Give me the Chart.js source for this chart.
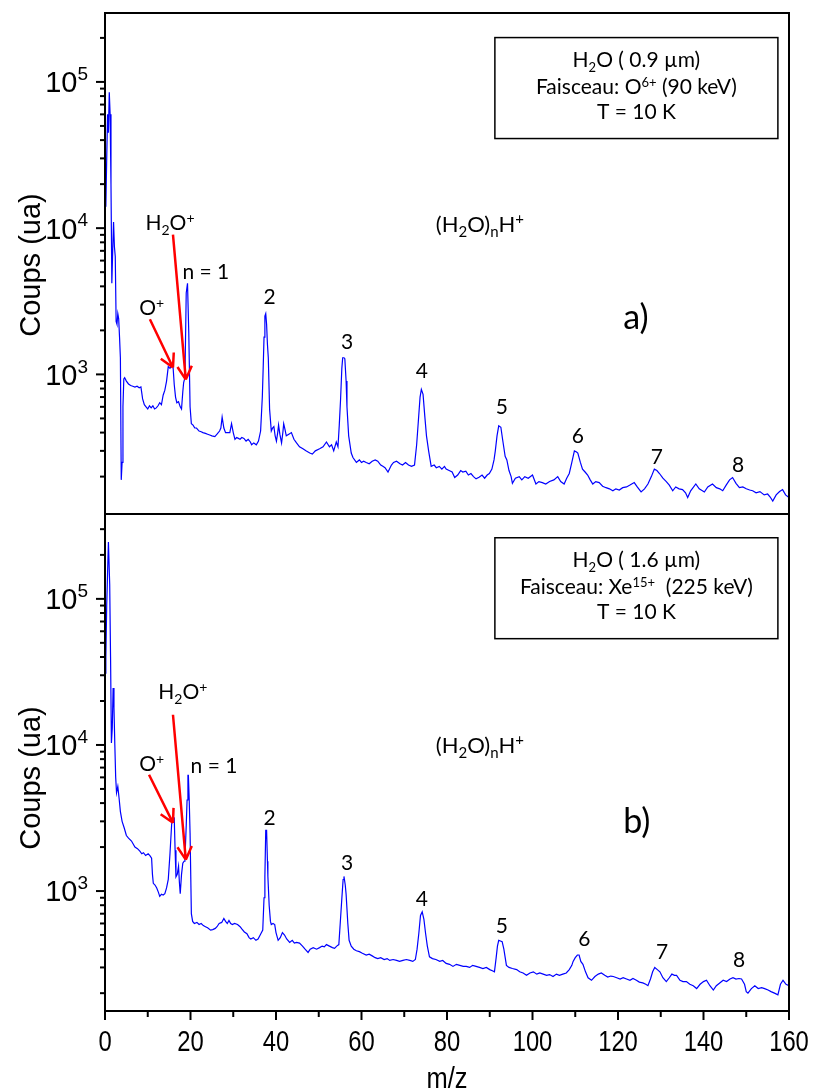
<!DOCTYPE html>
<html lang="fr">
<head>
<meta charset="UTF-8">
<title>Spectres de masse - glace H2O</title>
<script src="https://cdn.jsdelivr.net/npm/chart.js"></script>
<style>
  body { margin:0; background:#fff; }
  .wrap { position:relative; width:817px; height:1091px; overflow:hidden }
  canvas { position:absolute; left:0 }
  #chartA { top:0 }
  #chartB { top:505px }
</style>
</head>
<body>
<div class="wrap">
  <canvas id="chartA" width="817" height="520"></canvas>
  <canvas id="chartB" width="817" height="586"></canvas>
</div>
<script>
// --- panel a) : O6+ 90 keV, 0.9 um ---
const mzA = [0.0,0.2,0.4,0.6,0.8,1.0,1.2,1.4,1.6,1.8,2.0,2.2,2.4,2.6,2.8,3.0,3.2,3.4,3.6,3.8,4.0,4.2,4.4,4.6,5.0,5.5,6.0,6.5,7.0,7.5,8.0,8.4,8.8,9.2,9.6,10.0,10.4,10.8,11.2,11.6,12.0,12.4,12.8,13.2,13.6,14.0,14.4,14.8,15.2,15.6,15.9,16.2,16.5,16.8,17.2,17.6,17.9,18.2,18.4,18.7,19.0,19.3,19.6,19.9,20.2,20.6,21.0,21.4,22.0,22.5,22.9,23.5,24.0,24.5,25.0,25.7,26.2,26.8,27.1,27.4,27.8,28.2,28.6,29.2,29.6,30.0,30.4,30.8,31.2,31.6,32.0,32.5,33.0,33.5,34.0,34.3,34.8,35.4,35.9,36.4,36.8,37.0,37.2,37.4,37.6,37.8,38.0,38.2,38.5,38.9,39.2,39.5,39.8,40.1,40.4,40.6,40.9,41.3,41.6,41.8,42.1,42.4,43.0,43.6,44.2,44.8,45.5,46.3,47.0,47.9,48.5,49.2,50.2,51.0,51.8,52.5,53.0,53.5,54.1,54.5,54.8,55.1,55.4,55.6,55.9,56.1,56.4,56.6,57.0,57.6,58.0,58.8,59.5,60.0,60.5,61.1,61.8,62.5,63.2,63.8,64.5,65.0,65.5,66.2,67.0,67.5,68.2,69.0,69.6,70.3,71.0,71.7,72.4,72.9,73.3,73.7,74.0,74.4,74.8,75.2,75.7,76.3,77.0,77.5,78.2,78.8,79.4,79.8,80.5,81.2,81.8,82.5,83.2,83.7,84.4,85.0,85.6,86.2,86.8,87.5,88.2,88.8,89.4,89.9,90.5,91.0,91.3,91.7,92.1,92.6,93.0,93.6,94.0,94.5,95.0,95.3,96.0,96.9,97.5,98.2,99.0,100.0,100.8,101.5,102.3,103.1,104.0,105.0,105.9,106.6,107.4,108.0,108.6,109.2,109.8,110.3,110.6,111.2,111.7,112.3,112.9,113.5,114.1,114.8,115.6,116.4,117.2,118.0,118.8,119.5,120.3,121.1,122.0,122.8,123.8,124.5,125.4,126.2,127.0,127.8,128.5,129.1,129.7,130.5,131.3,132.0,132.8,133.5,134.3,135.1,135.8,136.3,137.0,138.2,139.0,140.2,141.0,142.1,143.0,143.8,144.5,145.3,146.1,146.8,147.6,148.4,149.2,150.0,150.8,151.5,152.3,153.2,154.2,155.0,155.6,156.2,157.0,157.8,158.5,159.2,160.0];
const countsA = [15000,14000,30000,60000,45000,85000,60000,20000,4200,7000,11000,7500,6400,2300,2200,2600,2400,1800,1300,190,250,600,930,950,900,860,840,830,820,830,810,820,680,620,600,580,610,590,610,580,590,610,640,620,720,780,900,1130,1100,1150,1150,850,700,640,650,600,580,760,880,950,3600,4200,1900,600,460,450,430,430,410,405,400,395,390,385,380,375,390,410,430,510,430,400,400,400,460,400,360,370,365,360,370,365,350,360,345,330,340,330,350,410,700,1100,1800,2500,2600,2200,1600,1300,580,410,430,440,380,350,400,450,390,340,400,460,420,380,390,400,360,340,320,310,300,290,285,300,310,320,345,320,330,300,345,320,450,670,1100,1300,1300,1280,900,600,380,290,270,250,260,250,255,250,245,255,260,255,240,235,230,215,240,250,255,245,240,250,240,235,240,330,480,700,790,730,520,380,300,235,240,230,235,225,235,225,220,215,197,205,220,215,218,205,210,200,193,198,205,195,205,210,225,260,300,380,445,435,360,275,260,220,200,180,195,200,190,200,195,205,178,185,182,178,185,190,200,185,178,195,210,250,300,295,290,250,225,215,205,190,178,185,182,172,168,165,160,165,162,168,170,175,182,170,157,165,178,200,225,220,210,195,185,175,160,170,165,163,155,144,160,178,165,157,170,178,168,165,160,175,190,197,180,168,170,165,162,160,155,158,150,152,145,136,150,158,163,150,144];

// --- panel b) : Xe15+ 225 keV, 1.6 um ---
const mzB = [0.0,0.2,0.4,0.6,0.8,0.9,1.1,1.3,1.5,1.7,1.9,2.1,2.3,2.5,2.7,3.0,3.3,3.6,4.0,4.5,5.0,5.5,6.2,7.0,7.6,8.2,8.6,9.0,9.5,10.1,10.5,10.9,11.1,11.3,11.7,12.1,12.5,12.8,13.2,13.6,14.0,14.4,14.8,15.2,15.6,15.9,16.2,16.4,16.6,16.9,17.2,17.4,17.6,17.9,18.2,18.5,18.7,19.0,19.2,19.4,19.5,19.7,19.9,20.2,20.5,20.9,21.5,22.0,22.5,23.0,23.5,24.0,24.7,25.2,25.8,26.2,26.7,27.3,27.8,28.2,28.6,29.0,29.4,29.8,30.3,31.0,31.6,32.0,32.6,33.2,33.7,34.1,34.7,35.3,35.8,36.3,36.9,37.2,37.4,37.6,37.8,38.0,38.1,38.4,38.7,38.9,39.3,39.7,40.0,40.5,41.0,41.5,42.0,42.5,43.2,43.8,44.3,44.8,45.5,46.2,46.8,47.5,48.0,48.7,49.5,50.2,50.8,51.3,51.8,52.5,53.2,53.7,54.2,54.7,55.1,55.4,55.7,55.9,56.2,56.4,56.8,57.1,57.6,58.2,58.8,59.5,60.2,61.1,61.8,62.5,63.2,63.8,64.5,65.3,66.0,66.6,67.4,68.2,68.9,69.7,70.5,71.3,72.0,72.6,73.0,73.4,73.8,74.2,74.6,75.0,75.4,75.9,76.6,77.4,78.3,79.0,79.8,80.6,81.4,82.2,83.0,83.8,84.5,85.3,86.0,86.8,87.6,88.4,89.2,90.0,90.6,91.1,91.5,91.8,92.1,92.5,92.9,93.3,93.9,94.5,95.3,96.3,97.0,97.8,98.6,99.4,100.2,101.0,101.7,102.5,103.3,104.0,104.8,105.6,106.3,107.1,107.9,108.6,109.2,109.5,110.0,110.5,110.9,111.3,111.8,112.4,113.0,113.8,114.6,115.4,116.1,116.9,117.6,118.3,118.9,119.7,120.5,121.2,122.0,122.8,123.5,124.3,125.0,125.8,126.5,127.0,127.6,128.1,128.6,129.2,129.8,130.5,131.3,132.0,132.6,133.2,133.7,134.5,135.2,136.0,136.8,137.6,138.4,139.2,140.0,140.7,141.5,142.3,143.0,143.8,144.6,145.4,146.2,146.9,147.6,148.3,148.9,149.6,150.0,150.4,151.2,152.0,152.8,153.6,154.3,155.1,155.8,156.6,157.4,158.0,158.6,159.3,160.0];
const countsB = [31000,40000,90000,150000,245000,245000,125000,40000,10300,13000,24500,18000,10000,6000,4700,5200,4300,3500,3000,2700,2400,2300,2200,2000,1950,1870,1800,1830,1750,1800,1750,1680,1300,1130,1100,1050,980,920,950,940,960,1050,1200,1800,2900,3100,3150,1900,1250,1300,1480,1150,960,1300,1550,1600,1680,2800,4200,6200,6200,4200,2500,700,620,600,610,590,600,580,570,560,540,545,555,570,600,610,650,620,600,630,600,590,600,590,570,550,525,510,480,470,480,460,470,500,540,900,1260,2600,2600,1600,1260,800,620,590,600,590,520,460,480,520,500,470,445,460,440,445,440,420,400,380,400,410,400,410,420,415,430,420,410,405,420,430,650,890,1200,1260,1100,950,600,460,420,400,390,385,375,365,370,360,350,345,350,340,345,335,340,335,330,335,340,335,330,340,400,510,680,720,640,510,420,355,345,340,330,335,320,315,305,315,310,305,305,300,310,305,300,295,300,290,285,280,350,420,460,455,450,400,310,300,295,290,280,275,265,275,280,270,275,270,265,268,260,270,265,270,275,290,310,330,350,365,365,330,315,280,255,245,260,270,275,265,258,262,260,255,250,255,250,245,252,245,238,235,230,225,250,280,300,290,280,255,240,255,270,265,265,245,240,240,230,225,215,230,240,245,225,210,225,235,245,240,250,255,250,252,250,230,205,200,215,225,215,218,215,210,205,200,195,230,245,230,225];

// axes
const xMin = 0, xMax = 160;
const xMajor = [0,20,40,60,80,100,120,140,160];
const yMajorA = [1e3,1e4,1e5];
const yMajorB = [1e3,1e4,1e5];
const yRangeA = [111, 2.96e5];
const yRangeB = [151, 3.81e5];

// annotations (m/z, counts)
const labelsA = [
  ['H_{2}O^{+}', 15.2, 1.09e4, 21], ['n = 1', 23.6, 5060, 21], ['O^{+}', 10.9, 2860, 21],
  ['2', 38.5, 3400, 21], ['3', 56.6, 1675, 21], ['4', 74.1, 1060, 21], ['5', 92.8, 603, 21],
  ['6', 110.6, 382, 21], ['7', 129.1, 274, 21], ['8', 148.1, 242, 21],
  ['(H_{2}O)_{n}H^{+}', 87.7, 1.06e4, 22], ['a)', 124.2, 2490, 34]
];
const labelsB = [
  ['H_{2}O^{+}', 18.2, 2.31e4, 21], ['n = 1', 25.5, 7230, 21], ['O^{+}', 10.9, 7460, 21],
  ['2', 38.5, 3180, 21], ['3', 56.6, 1570, 21], ['4', 74.1, 887, 21], ['5', 92.8, 578, 21],
  ['6', 112.1, 471, 21], ['7', 130.3, 384, 21], ['8', 148.3, 338, 21],
  ['(H_{2}O)_{n}H^{+}', 87.7, 1.0e4, 22], ['b)', 124.4, 3030, 34]
];
const arrowsA = [[10.5, 2380, 15.9, 1115], [15.9, 9040, 18.9, 923]];
const arrowsB = [[10.3, 6250, 15.9, 2930], [15.9, 1.61e4, 18.9, 1640]];
const boxA = { x: [91.2, 157.4], y: [2.01e5, 4.1e4],
  lines: [['H_{2}O ( 0.9 µm)', 1.42e5], ['Faisceau: O^{6+} (90 keV)', 9.3e4], ['T = 10 K', 6.27e4]] };
const boxB = { x: [91.2, 157.4], y: [2.62e5, 5.34e4],
  lines: [['H_{2}O ( 1.6 µm)', 1.85e5], ['Faisceau: Xe^{15+}  (225 keV)', 1.21e5], ['T = 10 K', 8.19e4]] };

const SANS = '"Liberation Sans", Arial, sans-serif';
const CAL = 'Lato, "Open Sans", sans-serif';

// text with ^{sup} and _{sub}; y is the middle of capitals
function drawRich(ctx, str, x, y, o) {
  const parts = str.split(/(\^\{[^}]*\}|_\{[^}]*\})/).filter(Boolean).map(p => {
    if (p.startsWith('^{')) return {t:p.slice(2,-1), k:'sup'};
    if (p.startsWith('_{')) return {t:p.slice(2,-1), k:'sub'};
    return {t:p, k:''};
  });
  const sz = o.size, small = Math.round(sz*(o.small||0.62));
  ctx.save();
  ctx.translate(x, y);
  if (o.rot) ctx.rotate(o.rot);
  ctx.scale(o.sx||1, 1);
  ctx.fillStyle = o.color||'#000';
  ctx.textBaseline = 'alphabetic';
  ctx.textAlign = 'left';
  let w = 0;
  parts.forEach(p => { ctx.font = (p.k?small:sz)+'px '+o.family; p.w = ctx.measureText(p.t).width; w += p.w; });
  let cx = o.align==='right' ? -w : o.align==='left' ? 0 : -w/2;
  const base = sz*0.36;
  parts.forEach(p => {
    ctx.font = (p.k?small:sz)+'px '+o.family;
    const dy = p.k==='sup' ? -sz*(o.supUp||0.36) : p.k==='sub' ? sz*0.22 : 0;
    ctx.fillText(p.t, cx, base+dy);
    cx += p.w;
  });
  ctx.restore();
}

function makePanelPlugin(spec) {
  return {
    id: 'panel',
    afterDraw(chart) {
      const {ctx, chartArea: a, scales: {x, y}} = chart;
      const X = v => x.getPixelForValue(v), Y = v => y.getPixelForValue(v);
      ctx.save();
      ctx.strokeStyle = '#000';
      ctx.lineWidth = 2;
      ctx.strokeRect(a.left, a.top, a.right - a.left, a.bottom - a.top);

      // y ticks (log: 1..9 x 10^n)
      const e0 = Math.floor(Math.log10(y.min)), e1 = Math.ceil(Math.log10(y.max));
      for (let e = e0; e <= e1; e++) {
        for (let m = 1; m <= 9; m++) {
          const v = m * Math.pow(10, e);
          if (v < y.min || v > y.max) continue;
          const py = Y(v);
          ctx.beginPath();
          ctx.moveTo(a.left, py);
          ctx.lineTo(a.left - (m === 1 ? 9 : 5), py);
          ctx.stroke();
        }
      }
      spec.yMajor.forEach(v => {
        const e = Math.round(Math.log10(v));
        drawRich(ctx, '10^{' + e + '}', a.left - 17, Y(v), {size:29, family:SANS, align:'right', small:0.66, supUp:0.42});
      });

      // x ticks on the bottom panel only
      if (spec.showX) {
        x.ticks.forEach(t => {
          const px = X(t.value);
          const major = xMajor.includes(t.value);
          ctx.beginPath();
          ctx.moveTo(px, a.bottom);
          ctx.lineTo(px, a.bottom + (major ? 9 : 6));
          ctx.stroke();
        });
        xMajor.forEach(v => drawRich(ctx, String(v), X(v), a.bottom + 30, {size:29, family:SANS, sx:0.82}));
        drawRich(ctx, 'm/z', (a.left + a.right) / 2, a.bottom + 66, {size:30, family:SANS, sx:0.85});
      }

      // axis title
      drawRich(ctx, 'Coups (ua)', 30, spec.titleY, {size:29, family:SANS, rot:-Math.PI/2});

      // arrows
      ctx.strokeStyle = '#ff0000';
      ctx.lineWidth = 2.5;
      spec.arrows.forEach(([x0, y0, x1, y1]) => {
        const p0 = [X(x0), Y(y0)], p1 = [X(x1), Y(y1)];
        const ang = Math.atan2(p1[1] - p0[1], p1[0] - p0[0]);
        ctx.beginPath();
        ctx.moveTo(p0[0], p0[1]);
        ctx.lineTo(p1[0], p1[1]);
        [-0.5, 0.5].forEach(d => {
          ctx.moveTo(p1[0], p1[1]);
          ctx.lineTo(p1[0] - 15 * Math.cos(ang + d), p1[1] - 15 * Math.sin(ang + d));
        });
        ctx.stroke();
      });

      // labels
      spec.labels.forEach(([t, mx, my, sz]) => drawRich(ctx, t, X(mx), Y(my), {size:sz, family:CAL, small:0.68}));

      // info box
      const b = spec.box;
      ctx.strokeStyle = '#000';
      ctx.lineWidth = 1.5;
      ctx.fillStyle = '#fff';
      const bx0 = X(b.x[0]), bx1 = X(b.x[1]), by0 = Y(b.y[0]), by1 = Y(b.y[1]);
      ctx.fillRect(bx0, by0, bx1 - bx0, by1 - by0);
      ctx.strokeRect(bx0, by0, bx1 - bx0, by1 - by0);
      b.lines.forEach(([t, v]) => drawRich(ctx, t, (bx0 + bx1) / 2, Y(v), {size:21, family:CAL, small:0.62}));
      ctx.restore();
    }
  };
}

function makeChart(id, mz, counts, range, spec, pad, xHeight) {
  return new Chart(document.getElementById(id), {
    type: 'line',
    data: {
      datasets: [{
        data: mz.map((m, i) => ({x: m, y: counts[i]})),
        borderColor: '#0000ff',
        borderWidth: 1.2,
        pointRadius: 0,
        tension: 0,
        fill: false
      }]
    },
    options: {
      responsive: false,
      animation: false,
      devicePixelRatio: 1,
      events: [],
      layout: {padding: pad},
      plugins: {legend: {display: false}, tooltip: {enabled: false}},
      scales: {
        x: {
          type: 'linear', min: xMin, max: xMax,
          display: spec.showX,
          ticks: {stepSize: 10, display: false},
          grid: {display: false, drawTicks: false},
          border: {display: false},
          afterFit: s => { s.height = xHeight; }
        },
        y: {
          type: 'logarithmic', min: range[0], max: range[1],
          ticks: {display: false},
          grid: {display: false, drawTicks: false},
          border: {display: false},
          afterFit: s => { s.width = 105; }
        }
      }
    },
    plugins: [makePanelPlugin(spec)]
  });
}

makeChart('chartA', mzA, countsA, yRangeA, {
  showX: false, yMajor: yMajorA, titleY: 265, labels: labelsA, arrows: arrowsA, box: boxA
}, {top: 13, right: 28, bottom: 6, left: 0}, 0);

makeChart('chartB', mzB, countsB, yRangeB, {
  showX: true, yMajor: yMajorB, titleY: 273, labels: labelsB, arrows: arrowsB, box: boxB
}, {top: 9, right: 28, bottom: 0, left: 0}, 80);
</script>
</body>
</html>
